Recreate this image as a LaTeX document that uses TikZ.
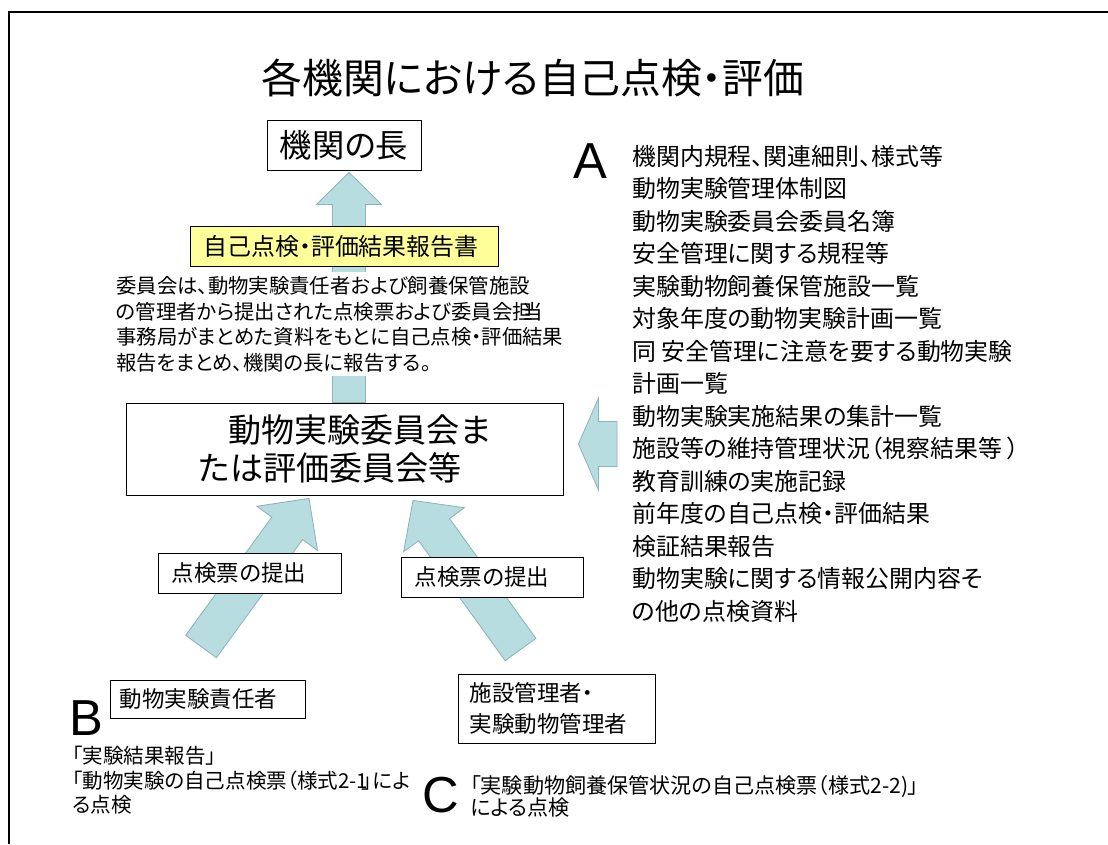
\documentclass[tikz,border=0pt]{standalone}
\usepackage{fontspec}
\setmainfont{Noto Sans CJK JP}[RawFeature=+palt]
\newfontfamily\latinfont{Liberation Sans}
\usetikzlibrary{positioning,calc,backgrounds}
\definecolor{flowfill}{HTML}{B7DDE0}
\definecolor{flowline}{HTML}{8CB4B8}
\definecolor{memo}{HTML}{FFFF99}
\tikzset{
  box/.style={draw, fill=white, line width=0.6pt, inner sep=0pt},
  flow/.style={fill=flowfill, draw=flowline, line width=0.6pt},
  big/.style={font=\latinfont\fontsize{36pt}{36pt}\selectfont, inner sep=0pt},
}
\newcommand\blockarrow[5]{%
  \coordinate (bh) at ($(#2)!#5!(#1)$);
  \draw[flow] ($(#1)!#3!90:(#2)$) -- ($(bh)!#3!90:(#2)$) -- ($(bh)!#4!90:(#2)$) -- (#2)
    -- ($(bh)!#4!-90:(#2)$) -- ($(bh)!#3!-90:(#2)$) -- ($(#1)!#3!-90:(#2)$) -- cycle;}

\begin{document}
\begin{tikzpicture}[x=0.025cm,y=-0.025cm]
  \useasboundingbox (0,0) rectangle (1108,844);
  \draw[line width=1.1pt] (1108,12) -- (9,12) -- (9,844);
  \node(title) at (533,78) {\fontsize{29pt}{29pt}\selectfont 各機関における自己点検・評価};
  \node(head) [box, minimum width=3.85cm, minimum height=1.25cm] at (344,145)
    {\fontsize{23pt}{23pt}\selectfont 機関の長};
  \node(report) [box, fill=memo, minimum width=7.7cm, minimum height=1cm] at (344,246)
    {\fontsize{17pt}{17pt}\selectfont 自己点検・評価結果報告書\hspace*{0.15cm}};
  \node(note) [fill=white, anchor=north west, inner xsep=0pt, inner ysep=3pt, align=left,
    font=\fontsize{14.5pt}{18.1pt}\selectfont] at (116,272)
    {委員会は、動物実験責任者および飼養保管施設\\
     の管理者から提出された点検票および委員会担\kern-.5em 当\\
     事務局がまとめた資料をもとに自己点検・評価結果\\
     報告をまとめ、機関の長に報告する。};
  \node(comm) [box, minimum width=10.925cm, minimum height=2.3cm, align=left,
    font=\fontsize{23.5pt}{27pt}\selectfont] at (344.5,449)
    {\hspace*{0.75cm}動物実験委員会ま\\たは評価委員会等};
  \node(alist) [anchor=north west, inner sep=0pt, align=left,
    font=\fontsize{17pt}{23.1pt}\selectfont] at (632,145)
    {機関内規程、関連細則、様式等\\
     動物実験管理体制図\\
     動物実験委員会委員名簿\\
     安全管理に関する規程等\\
     実験動物飼養保管施設一覧\\
     対象年度の動物実験計画一覧\\
     同 安全管理に注意を要する動物実験\\
     計画一覧\\
     動物実験実施結果の集計一覧\\
     施設等の維持管理状況（視察結果等 ）\\
     教育訓練の実施記録\\
     前年度の自己点検・評価結果\\
     検証結果報告\\
     動物実験に関する情報公開内容そ\\
     の他の点検資料};
  \node(la) [big] at (590,161) {A};
  \node(check1) [box, minimum height=1cm, inner xsep=0.35cm, text width=3.875cm, align=left,
    font=\fontsize{16pt}{16pt}\selectfont] at (249.5,573) {点検票の提出};
  \node(check2) [box, minimum height=1cm, inner xsep=0.35cm, text width=3.85cm, align=left,
    font=\fontsize{16pt}{16pt}\selectfont] at (492,577) {点検票の提出};
  \node(resp) [box, minimum height=0.95cm, inner xsep=0.25cm, text width=4.375cm, align=left,
    font=\fontsize{16pt}{16pt}\selectfont] at (207.5,699) {動物実験責任者};
  \node(fac) [box, minimum height=1.725cm, inner xsep=0.3cm, text width=4.325cm, align=left,
    font=\fontsize{16pt}{22pt}\selectfont] at (556.5,708.5) {施設管理者・\\実験動物管理者};
  \node(lb) [big] at (86,718) {B};
  \node(lc) [big] at (441,795) {C};
  \node(btext) [anchor=north west, inner sep=0pt, align=left,
    font=\fontsize{14.6pt}{17.4pt}\selectfont] at (72,746)
    {「実験結果報告」\\
     「動物実験の自己点検票（様式2-1\kern-.3em」によ\\
     る点検};
  \node(ctext) [anchor=north west, inner sep=0pt, align=left,
    font=\fontsize{15pt}{16pt}\selectfont] at (470,775)
    {「実験動物飼養保管状況の自己点検票（様式2-2)」\\
     による点検};
  \coordinate (uptip) at ($(head.south)+(5,2)$);
  \coordinate (upend) at ($(comm.north)+(4.5,0)$);
  \coordinate (atail) at (617,444);
  \coordinate (atip) at ($(comm.east)+(15,-5)$);
  \coordinate (btail) at (201,646.5);
  \coordinate (btip) at ($(comm.south)+(-35.5,3)$);
  \coordinate (ctail) at (520.5,649.5);
  \coordinate (ctip) at ($(comm.south)+(68.5,5)$);
  \begin{scope}[on background layer]
    \blockarrow{upend}{uptip}{0.4125cm}{0.8125cm}{0.8cm}
    \blockarrow{atail}{atip}{0.5625cm}{1.15cm}{0.5cm}
    \blockarrow{btail}{btip}{0.475cm}{0.9375cm}{0.925cm}
    \blockarrow{ctail}{ctip}{0.475cm}{0.9375cm}{0.9cm}
  \end{scope}
\end{tikzpicture}
\end{document}
